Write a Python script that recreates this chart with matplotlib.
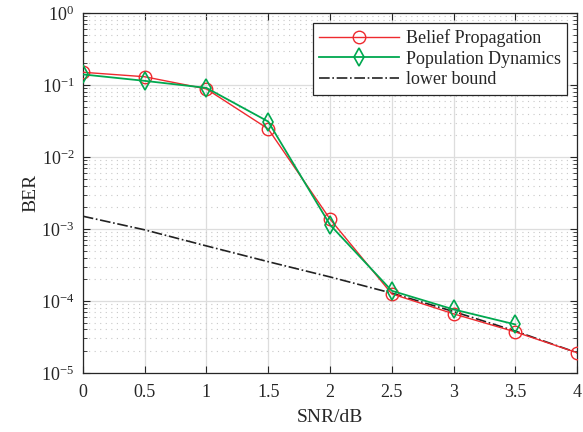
import matplotlib
matplotlib.use("Agg")
import matplotlib.pyplot as plt
from matplotlib.ticker import LogLocator, NullFormatter

plt.rcParams['font.family'] = ['Liberation Serif', 'DejaVu Serif']
plt.rcParams['mathtext.fontset'] = 'stix'

snr = [0, 0.5, 1, 1.5, 2, 2.5, 3, 3.5, 4]
bp_snr = [0, 0.5, 1, 1.5, 2, 2.5, 3, 3.5, 4]
bp_ber = [0.15, 0.13, 0.088, 0.0245, 1.37e-3, 1.25e-4, 6.6e-5, 3.7e-5, 1.9e-5]
pd_snr = [0, 0.5, 1, 1.5, 2, 2.5, 3, 3.5]
pd_ber = [0.14, 0.114, 0.091, 0.031, 1.14e-3, 1.38e-4, 7.6e-5, 4.7e-5]
lb_ber = [1.5e-3, 9.7e-4, 5.8e-4, 3.5e-4, 2.15e-4, 1.28e-4, 7.1e-5, 3.8e-5, 1.9e-5]

fig = plt.figure(figsize=(5.83, 4.32), dpi=100)
ax = fig.add_axes([0.142, 0.137, 0.848, 0.833])

red = '#ee2a2f'
green = '#00a84f'
ax.semilogy(bp_snr, bp_ber, '-o', color=red, lw=1.0, ms=9, mfc='none', mew=1.0, label='Belief Propagation', zorder=4)
ax.semilogy(pd_snr, pd_ber, '-d', color=green, lw=1.3, ms=9, mfc='none', mew=1.2, label='Population Dynamics', zorder=5)
ax.semilogy(snr, lb_ber, '-.', color='#222222', lw=1.2, label='lower bound', zorder=3)

ax.set_xlim(0, 4)
ax.set_ylim(1e-5, 1)
ax.set_xticks(snr)
ax.set_xticklabels(['0', '0.5', '1', '1.5', '2', '2.5', '3', '3.5', '4'])
ax.yaxis.set_major_locator(LogLocator(base=10, numticks=10))
ax.yaxis.set_minor_locator(LogLocator(base=10, subs=range(2, 10), numticks=20))
ax.yaxis.set_minor_formatter(NullFormatter())

ax.grid(True, which='major', color='#dddddd', lw=0.9, ls='-')
ax.grid(True, which='minor', axis='y', color='#c8c8c8', lw=0.8, ls=(0, (1, 4)))
ax.set_axisbelow(True)

ax.tick_params(which='both', direction='in', top=True, right=True, colors='#262626', labelsize=13)
ax.tick_params(axis='x', pad=8)
ax.tick_params(axis='y', pad=6)
ax.tick_params(which='major', length=5)
ax.tick_params(which='minor', length=3)
for s in ax.spines.values():
    s.set_color('#262626')
    s.set_linewidth(0.9)

ax.set_xlabel('SNR/dB', fontsize=14, color='#262626', labelpad=6)
ax.set_ylabel('BER', fontsize=14, color='#262626', labelpad=1)

leg = ax.legend(loc='upper right', fontsize=13, fancybox=False, framealpha=1,
                edgecolor='#262626', borderaxespad=0.55, handlelength=4.4,
                handletextpad=0.4, labelspacing=0.2, borderpad=0.35)
leg.get_frame().set_linewidth(0.9)
for t in leg.get_texts():
    t.set_color('#262626')

fig.savefig('out.png', dpi=100)
